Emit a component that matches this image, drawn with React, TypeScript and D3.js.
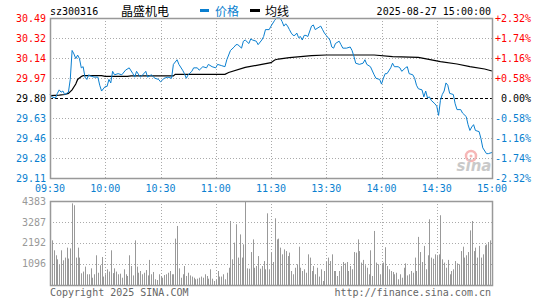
import React from 'react';
import * as d3 from 'd3';

// values
const priceMinutes = [0,1,3,4,5,6,7,8,10,11,12,13,14,15,16,17,18,19,20,21,22,24,26,27,28,30,31,32,33,34,35,37,39,41,43,45,46,47,49,51,52,53,55,57,59,60,62,64,66,67,69,70,72,73,74,75,77,78,80,81,83,85,86,88,90,91,93,95,96,98,100,101,102,104,105,106,108,109,110,112,113,115,116,117,119,120,122,123,125,126,127,128,129,130,131,132,133,134,135,136,137,138,139,140,142,143,144,145,147,148,149,150,152,153,154,155,157,158,159,161,163,164,165,166,168,170,171,172,174,176,177,179,180,181,182,183,185,186,187,189,190,191,193,194,195,197,198,199,200,202,203,204,205,206,207,209,210,211,212,213,214,215,216,217,219,220,221,223,224,226,227,228,229,230,231,233,234,235,237,238,240];
const prices = [29.83,29.81,29.80,29.84,29.87,29.85,29.86,29.83,29.85,29.96,30.21,30.18,30.14,30.17,30.14,30.06,30.07,29.98,29.96,30.00,29.99,29.98,29.98,29.91,29.86,29.90,29.90,29.96,29.93,30.03,30.00,30.01,30.00,30.04,30.06,30.01,29.98,30.03,29.98,30.01,30.03,29.98,30.00,29.97,29.96,29.94,29.97,29.98,29.97,30.09,30.13,30.09,30.04,30.01,29.97,30.00,30.03,30.06,30.06,30.04,30.07,30.06,30.09,30.07,30.06,30.09,30.08,30.07,30.13,30.21,30.24,30.26,30.26,30.23,30.29,30.30,30.27,30.31,30.30,30.29,30.26,30.30,30.33,30.39,30.39,30.42,30.47,30.49,30.49,30.46,30.42,30.44,30.42,30.39,30.36,30.34,30.34,30.36,30.32,30.33,30.30,30.34,30.34,30.33,30.42,30.43,30.39,30.40,30.42,30.39,30.36,30.34,30.30,30.24,30.23,30.27,30.29,30.26,30.23,30.23,30.24,30.21,30.16,30.10,30.09,30.10,30.13,30.09,30.07,30.00,29.97,29.96,29.92,29.97,30.01,30.01,30.06,30.10,30.07,30.07,30.06,30.03,30.06,30.07,30.01,30.00,29.97,29.91,29.88,29.87,29.81,29.86,29.80,29.81,29.78,29.75,29.73,29.65,29.78,29.83,29.86,29.93,29.91,29.84,29.83,29.75,29.70,29.70,29.67,29.64,29.57,29.52,29.55,29.57,29.52,29.51,29.45,29.37,29.32,29.32,29.33];

const avgMinutes = [0,5,8,10,12,14,15,17,18,28,30,42,44,67,68,95,97,106,115,120,122,124,130,136,142,150,176,186,200,205,212,221,228,236,240];
const avgPrices = [29.82,29.825,29.83,29.84,29.87,29.92,29.96,29.985,29.993,29.993,29.987,29.987,29.99,29.99,30.004,30.004,30.02,30.064,30.09,30.105,30.128,30.136,30.148,30.157,30.165,30.171,30.171,30.157,30.151,30.136,30.113,30.093,30.07,30.05,30.033];

const volumes = [
  820,2330,1810,1550,1340,1050,1810,1290,1430,1950,1380,1910,4260,4160,1430,1950,1430,610,700,960,
  560,560,870,380,560,1550,640,1030,1460,440,560,820,700,1810,620,870,700,560,590,380,
  820,560,470,1550,990,500,2330,960,640,730,560,640,780,500,1310,560,680,300,260,560,
  470,380,520,560,640,730,560,560,2420,3080,870,
  380,560,990,470,640,500,440,380,300,330,380,440,380,560,470,330,820,330,210,260,
  730,440,440,560,300,640,900,3340,1340,2210,3170,1430,2640,1430,2120,4383,870,850,1720,2380,
  900,990,1510,850,990,1250,820,3740,820,1690,1200,3480,2380,2420,1950,1600,1860,1770,1510,1690,
  730,560,900,1080,2000,900,730,820,640,1600,1430,730,990,560,900,440,820,210,730,1200,
  1430,1250,1600,730,730,470,730,990,1200,1130,1200,730,990,820,1720,1690,2380,
  1770,1170,1310,1030,900,560,1810,470,2820,1170,1080,560,1130,1170,1970,990,820,730,680,560,
  640,300,560,380,900,1130,500,560,730,640,1430,730,2510,1720,1200,2040,820,1550,3430,1430,
  1370,1600,1510,1600,3640,1340,1170,900,1310,560,730,820,1250,1130,1080,1770,2000,1430,1550,1720,
  2850,3340,1770,1950,1430,2040,1430,1600,2070,2120,2240,2330,2300,
];

const priceLabels = ['30.49', '30.32', '30.14', '29.97', '29.80', '29.63', '29.46', '29.28', '29.11'];
const pctLabels = ['+2.32%', '+1.74%', '+1.16%', '+0.58%', '0.00%', '-0.58%', '-1.16%', '-1.74%', '-2.32%'];
const timeLabels = ['09:30', '10:00', '10:30', '11:00', '11:30', '13:30', '14:00', '14:30', '15:00'];
const volLabels = ['4383', '3287', '2192', '1096'];

const preClose = 29.8;
const minPrice = 29.11;
const maxPrice = 30.49;
const maxVol = 4383;

const RED = '#ff0000';
const BLUE = '#0a7fd0';
const GRID = '#aaaaaa';
const FRAME = '#999999';
const mono = '"DejaVu Sans Mono", monospace';
const cjk = '"Noto Sans CJK SC", sans-serif';

export default function App() {
  const left = 50;
  const right = 492;
  const pTop = 18;
  const pBottom = 178;
  const vTop = 201;
  const vBottom = 285;

  const x = d3.scaleLinear().domain([0, 240]).range([left, right]);
  const y = d3.scaleLinear().domain([minPrice, maxPrice]).range([pBottom, pTop]);
  const yv = d3.scaleLinear().domain([0, maxVol]).range([vBottom, vTop]);
  const tickY = d3.scaleLinear().domain([0, priceLabels.length - 1]).range([pTop, pBottom]);
  const tickX = d3.scaleLinear().domain([0, timeLabels.length - 1]).range([left, right]);

  const priceLine = d3.line<number>()
    .x((_, i) => x(priceMinutes[i]))
    .y(d => y(d));
  const avgLine = d3.line<number>()
    .x((_, i) => x(avgMinutes[i]))
    .y(d => y(d));

  const colorFor = (i: number) => (i < 4 ? RED : i === 4 ? '#000' : BLUE);
  const midY = y(preClose);

  return (
    <svg width={545} height={300} style={{ position: 'absolute', left: 0, top: 0, background: '#fff' }}>
      <rect x={0} y={0} width={545} height={300} fill="#fff" />

      {/* header */}
      <text x={50} y={15} fontFamily={mono} fontSize={10} fill="#000">sz300316</text>
      <text x={121} y={15.5} fontFamily={cjk} fontSize={12} fill="#000">晶盛机电</text>
      <rect x={200} y={9} width={9} height={3} fill={BLUE} />
      <text x={215} y={15.5} fontFamily={cjk} fontSize={12} fill={BLUE}>价格</text>
      <rect x={250} y={9} width={10} height={3} fill="#000" />
      <text x={265} y={15.5} fontFamily={cjk} fontSize={12} fill="#000">均线</text>
      <text x={491} y={15} textAnchor="end" fontFamily={mono} fontSize={10} fill="#000">2025-08-27 15:00:00</text>

      {/* price grid */}
      {priceLabels.map((_, i) => (i === 0 || i === 4 || i === priceLabels.length - 1) ? null : (
        <line key={'hg' + i} x1={left} x2={right} y1={Math.round(tickY(i)) + 0.5} y2={Math.round(tickY(i)) + 0.5}
          stroke={GRID} strokeDasharray="1,2" />
      ))}
      {timeLabels.map((_, i) => (i === 0 || i === timeLabels.length - 1) ? null : (
        <g key={'vg' + i}>
          <line x1={Math.round(tickX(i)) + 0.5} x2={Math.round(tickX(i)) + 0.5} y1={pTop} y2={pBottom}
            stroke={GRID} strokeDasharray="1,2" />
          <line x1={Math.round(tickX(i)) + 0.5} x2={Math.round(tickX(i)) + 0.5} y1={vTop} y2={vBottom}
            stroke={GRID} strokeDasharray="1,2" />
        </g>
      ))}
      <line x1={left} x2={right} y1={Math.round(midY) + 0.5} y2={Math.round(midY) + 0.5}
        stroke="#000" strokeDasharray="3,2" />

      {/* sina watermark */}
      <g opacity={0.75}>
        <circle cx={471} cy={156} r={5} fill="none" stroke="#f4a0a0" strokeWidth={2.5} />
        <circle cx={471} cy={156} r={1.5} fill="#f4a0a0" />
        <text x={474} y={171} textAnchor="middle" fontFamily="'DejaVu Sans', sans-serif" fontStyle="italic"
          fontWeight="bold" fontSize={15} fill="#b8b8b8">sina</text>
      </g>

      {/* lines */}
      <path d={avgLine(avgPrices) ?? ''} fill="none" stroke="#000" strokeWidth={1.2} />
      <path d={priceLine(prices) ?? ''} fill="none" stroke={BLUE} strokeWidth={1} />

      {/* volume grid */}
      {volLabels.slice(1).map((v, i) => (
        <line key={'vh' + i} x1={left} x2={right} y1={Math.round(yv(+v)) + 0.5} y2={Math.round(yv(+v)) + 0.5}
          stroke={GRID} strokeDasharray="1,2" />
      ))}

      {/* volume bars */}
      {volumes.map((v, i) => (
        <rect key={'b' + i} x={Math.round(x(i))} y={yv(v)} width={1} height={vBottom - yv(v)} fill="#999" />
      ))}

      {/* frames */}
      <rect x={left + 0.5} y={pTop + 0.5} width={right - left} height={pBottom - pTop} fill="none" stroke={FRAME} strokeWidth={1.5} />
      <rect x={left + 0.5} y={vTop + 0.5} width={right - left} height={vBottom - vTop} fill="none" stroke={FRAME} strokeWidth={1.5} />

      {/* price axis labels */}
      {priceLabels.map((t, i) => (
        <text key={'pl' + i} x={46} y={tickY(i) + 3.5} textAnchor="end" fontFamily={mono} fontSize={10} fill={colorFor(i)}>{t}</text>
      ))}
      {pctLabels.map((t, i) => (
        <text key={'pr' + i} x={i === 4 ? 501 : 495} y={tickY(i) + 3.5} fontFamily={mono} fontSize={10} fill={colorFor(i)}>{t}</text>
      ))}
      {timeLabels.map((t, i) => (
        <text key={'tl' + i} x={tickX(i)} y={192} textAnchor="middle" fontFamily={mono} fontSize={10} fill={BLUE}>{t}</text>
      ))}
      {volLabels.map((t, i) => (
        <text key={'vl' + i} x={46} y={yv(+t) + 3.5} textAnchor="end" fontFamily={mono} fontSize={10} fill="#999">{t}</text>
      ))}

      {/* footer */}
      <text x={50} y={296} fontFamily={mono} fontSize={10} fill="#666">Copyright 2025 SINA.COM</text>
      <text x={491} y={296} textAnchor="end" fontFamily={mono} fontSize={10} fill="#666">http://finance.sina.com.cn</text>
    </svg>
  );
}
